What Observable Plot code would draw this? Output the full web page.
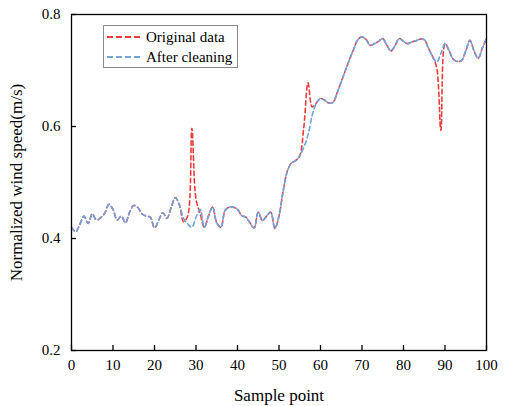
<!DOCTYPE html>
<html>
<head>
<meta charset="utf-8">
<script src="https://cdn.jsdelivr.net/npm/d3@7"></script>
<script src="https://cdn.jsdelivr.net/npm/@observablehq/plot@0.6"></script>
<style>
  html, body { margin: 0; padding: 0; background: #fff; }
  #wrap { position: relative; width: 506px; height: 406px; font-family: "Liberation Serif", "Times New Roman", Tinos, "DejaVu Serif", serif; }
  #legend { position: absolute; left: 103px; top: 25px; width: 135px; height: 43px; border: 1px solid #8a8a8a; background: #fff; font-size: 15px; color: #000; box-sizing: border-box; }
  .row { position: absolute; left: 3px; height: 18px; display: flex; align-items: center; white-space: nowrap; }
  .sw { width: 33px; height: 0; margin-right: 6px; border-top-width: 2px; border-top-style: dashed; }
</style>
</head>
<body>
<div id="wrap"></div>
<script>
// ---- data ----
const samples = d3.range(0, 101);
const afterCleaning = [
  0.420, 0.412, 0.425, 0.440, 0.427, 0.444, 0.433, 0.437, 0.445, 0.461,
  0.452, 0.433, 0.440, 0.428, 0.447, 0.459, 0.455, 0.444, 0.440, 0.438,
  0.419, 0.432, 0.446, 0.436, 0.455, 0.473, 0.460, 0.436, 0.426, 0.420,
  0.438, 0.452, 0.420, 0.440, 0.456, 0.428, 0.420, 0.450, 0.456, 0.456,
  0.452, 0.441, 0.438, 0.428, 0.419, 0.447, 0.432, 0.440, 0.447, 0.418,
  0.440, 0.485, 0.520, 0.535, 0.539, 0.548, 0.563, 0.585, 0.620, 0.642,
  0.650, 0.647, 0.642, 0.643, 0.660, 0.680, 0.700, 0.720, 0.738, 0.755,
  0.760, 0.755, 0.745, 0.748, 0.752, 0.757, 0.745, 0.735, 0.745, 0.757,
  0.752, 0.748, 0.751, 0.753, 0.756, 0.755, 0.740, 0.725, 0.715, 0.730,
  0.748, 0.735, 0.720, 0.716, 0.718, 0.735, 0.754, 0.735, 0.722, 0.740,
  0.757
];
const originalData = [
  0.420, 0.412, 0.425, 0.440, 0.427, 0.444, 0.433, 0.437, 0.445, 0.461,
  0.452, 0.433, 0.440, 0.428, 0.447, 0.459, 0.455, 0.444, 0.440, 0.438,
  0.419, 0.432, 0.446, 0.436, 0.455, 0.473, 0.460, 0.430, 0.440, 0.597,
  0.470, 0.445, 0.420, 0.440, 0.456, 0.428, 0.420, 0.450, 0.456, 0.456,
  0.452, 0.441, 0.438, 0.428, 0.419, 0.447, 0.432, 0.440, 0.447, 0.418,
  0.440, 0.485, 0.520, 0.535, 0.539, 0.548, 0.600, 0.678, 0.635, 0.642,
  0.650, 0.647, 0.642, 0.643, 0.660, 0.680, 0.700, 0.720, 0.738, 0.755,
  0.760, 0.755, 0.745, 0.748, 0.752, 0.757, 0.745, 0.735, 0.745, 0.757,
  0.752, 0.748, 0.751, 0.753, 0.756, 0.755, 0.740, 0.725, 0.705, 0.593,
  0.748, 0.735, 0.720, 0.716, 0.718, 0.735, 0.754, 0.735, 0.722, 0.740,
  0.757
];
const xTicks = [0, 10, 20, 30, 40, 50, 60, 70, 80, 90, 100];
const yTicks = [0.2, 0.4, 0.6, 0.8];
const seriesNames = ["Original data", "After cleaning"];
const seriesColors = ["#f23b3b", "#6fa3dc"];

const serif = '"Liberation Serif", "Times New Roman", Tinos, "DejaVu Serif", serif';

// ---- chart ----
const chart = Plot.plot({
  width: 506,
  height: 406,
  marginLeft: 71,
  marginRight: 20,
  marginTop: 14,
  marginBottom: 56,
  style: { fontFamily: serif, fontSize: "15px", color: "#000", background: "#fff" },
  x: { domain: [0, 100] },
  y: { domain: [0.2, 0.8] },
  marks: [
    Plot.lineY(originalData, { x: samples, y: d => d, stroke: seriesColors[0], strokeWidth: 1.6, strokeDasharray: "4.5,3", curve: "catmull-rom" }),
    Plot.lineY(afterCleaning, { x: samples, y: d => d, stroke: seriesColors[1], strokeWidth: 1.6, strokeDasharray: "4.5,3", curve: "catmull-rom" }),
    // inward ticks
    Plot.tickX(xTicks, { x: d => d, stroke: "#000", strokeWidth: 1.3, insetTop: 331 }),
    Plot.tickY(yTicks, { y: d => d, stroke: "#000", strokeWidth: 1.3, insetRight: 410 }),
    Plot.axisX({ ticks: xTicks, tickSize: 0, tickPadding: 9, label: "Sample point", labelAnchor: "center", labelArrow: "none", labelOffset: 50 }),
    Plot.axisY({ ticks: yTicks, tickSize: 0, tickPadding: 11, tickFormat: d3.format(".1f"), label: "Normalized wind speed(m/s)", labelAnchor: "center", labelArrow: "none", labelOffset: 62 }),
    Plot.frame({ stroke: "#000", strokeWidth: 1.3 })
  ]
});
document.getElementById("wrap").appendChild(chart);
d3.select(chart).selectAll('[aria-label="x-axis label"], [aria-label="y-axis label"]').attr("font-size", 17);

// ---- legend ----
const legend = document.createElement("div");
legend.id = "legend";
seriesNames.forEach((name, i) => {
  const row = document.createElement("div");
  row.className = "row";
  row.style.top = (2 + i * 20) + "px";
  const sw = document.createElement("span");
  sw.className = "sw";
  sw.style.borderTopColor = seriesColors[i];
  row.appendChild(sw);
  row.appendChild(document.createTextNode(name));
  legend.appendChild(row);
});
document.getElementById("wrap").appendChild(legend);
</script>
</body>
</html>
